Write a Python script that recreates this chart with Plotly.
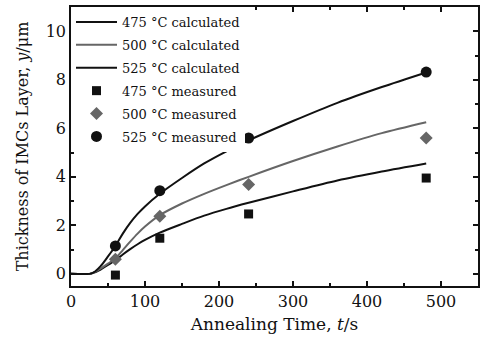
import plotly.graph_objects as go

# calculated curves
t_calc = [0, 25, 30, 40, 50, 60, 70, 80, 90, 100, 120, 150, 180, 210, 240, 300, 360, 420, 480]
calc_475 = [0, 0, 0.04, 0.18, 0.37, 0.56, 0.8, 1.02, 1.22, 1.4, 1.7, 2.06, 2.4, 2.68, 2.93, 3.4, 3.85, 4.22, 4.55]
calc_500 = [0, 0, 0.04, 0.22, 0.42, 0.64, 0.98, 1.33, 1.66, 1.95, 2.42, 2.9, 3.3, 3.66, 4.0, 4.65, 5.25, 5.8, 6.25]
calc_525 = [0, 0, 0.05, 0.32, 0.72, 1.15, 1.66, 2.1, 2.47, 2.78, 3.3, 3.95, 4.55, 5.05, 5.5, 6.3, 7.05, 7.7, 8.3]

# measured points
t_meas = [60, 120, 240, 480]
meas_475 = [-0.05, 1.47, 2.47, 3.95]
meas_500 = [0.6, 2.38, 3.68, 5.6]
meas_525 = [1.15, 3.43, 5.6, 8.32]

x_ticks = [0, 100, 200, 300, 400, 500]
y_ticks = [0, 2, 4, 6, 8, 10]

BLACK = "#111111"
GRAY = "#666666"
FONT = "DejaVu Serif"

fig = go.Figure()
line_kw = dict(shape="spline", smoothing=0.8, width=2)
fig.add_trace(go.Scatter(x=t_calc, y=calc_475, mode="lines", name="475 °C calculated",
                         line=dict(color=BLACK, **line_kw), legendgroup="a"))
fig.add_trace(go.Scatter(x=t_calc, y=calc_500, mode="lines", name="500 °C calculated",
                         line=dict(color=GRAY, **line_kw), legendgroup="b"))
fig.add_trace(go.Scatter(x=t_calc, y=calc_525, mode="lines", name="525 °C calculated",
                         line=dict(color=BLACK, **line_kw), legendgroup="c"))
fig.add_trace(go.Scatter(x=t_meas, y=meas_475, mode="markers", name="475 °C measured",
                         marker=dict(symbol="square", size=9, color=BLACK), legendgroup="d"))
fig.add_trace(go.Scatter(x=t_meas, y=meas_500, mode="markers", name="500 °C measured",
                         marker=dict(symbol="diamond", size=10, color=GRAY), legendgroup="e"))
fig.add_trace(go.Scatter(x=t_meas, y=meas_525, mode="markers", name="525 °C measured",
                         marker=dict(symbol="circle", size=11, color=BLACK), legendgroup="f"))

axis_common = dict(
    showline=True, linecolor=BLACK, linewidth=1.5, mirror="ticks",
    ticks="inside", ticklen=5, tickwidth=1.5, tickcolor=BLACK,
    showgrid=False, zeroline=False,
    tickfont=dict(family=FONT, size=16, color=BLACK),
)

fig.update_layout(
    width=481, height=338,
    margin=dict(l=71, r=1, t=7, b=52),
    paper_bgcolor="white", plot_bgcolor="white",
    font=dict(family=FONT, color=BLACK),
    showlegend=True,
    legend=dict(x=0.0, y=1.0, xanchor="left", yanchor="top",
                bgcolor="white", borderwidth=0,
                font=dict(family=FONT, size=13, color=BLACK),
                tracegroupgap=3, itemwidth=41),
    xaxis=dict(range=[0, 550], tickvals=x_ticks,
               minor=dict(dtick=50, ticks="inside", ticklen=3, tickcolor=BLACK),
               title=dict(text="Annealing Time, <i>t</i>/s", font=dict(family=FONT, size=17), standoff=8),
               **axis_common),
    yaxis=dict(range=[-0.5, 11], tickvals=y_ticks,
               minor=dict(dtick=1, ticks="inside", ticklen=3, tickcolor=BLACK),
               title=dict(text="Thickness of IMCs Layer, <i>y</i>/μm", font=dict(family=FONT, size=16), standoff=13),
               **axis_common),
)

fig.write_html("out.html")
